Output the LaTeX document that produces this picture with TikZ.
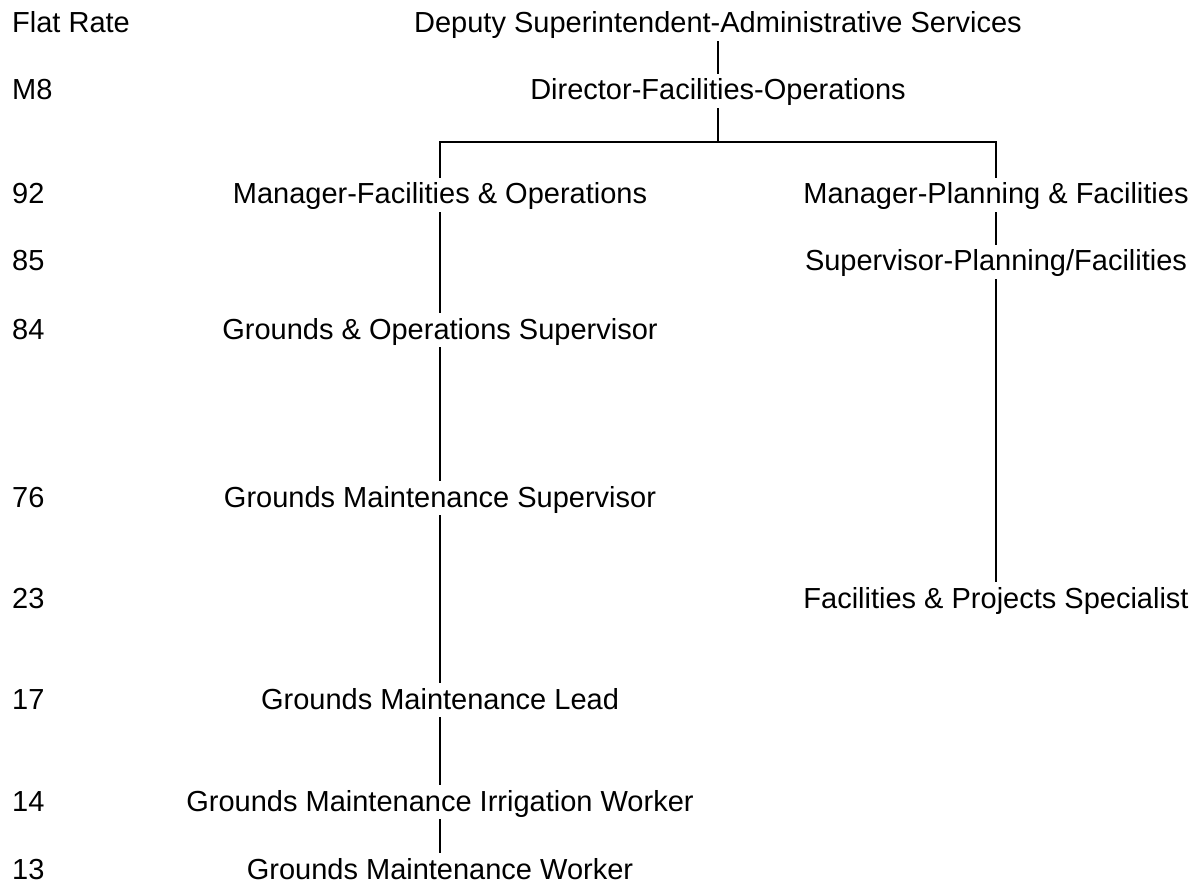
\documentclass[tikz,border=0pt]{standalone}
\usepackage{fontspec}
\setmainfont{Liberation Sans}
\begin{document}
\begin{tikzpicture}[x=1pt,y=-1pt,
  every node/.style={font=\fontsize{29}{34}\selectfont},
  jobtitle/.style={anchor=base,inner xsep=2pt,inner ysep=0pt,text height=26pt,text depth=8pt},
  rowlabel/.style={anchor=base west,inner sep=0pt},
  conn/.style={line width=2pt}]
\useasboundingbox (0,0) rectangle (1198,882);
% grade labels
\node[rowlabel] (lFlat) at (12,33) {Flat Rate};
\node[rowlabel] (lM8) at (12,100) {M8};
\node[rowlabel] (l92) at (12,204) {92};
\node[rowlabel] (l85) at (12,271) {85};
\node[rowlabel] (l84) at (12,339) {84};
\node[rowlabel] (l76) at (12,507) {76};
\node[rowlabel] (l23) at (12,608) {23};
\node[rowlabel] (l17) at (12,709) {17};
\node[rowlabel] (l14) at (12,811) {14};
\node[rowlabel] (l13) at (12,879) {13};
% positions
\node[jobtitle] (dep) at (718,33) {Deputy Superintendent-Administrative Services};
\node[jobtitle] (dir) at (718,100) {Director-Facilities-Operations};
\node[jobtitle] (mf) at (440,204) {Manager-Facilities \& Operations};
\node[jobtitle] (mp) at (996,204) {Manager-Planning \& Facilities};
\node[jobtitle] (sp) at (996,271) {Supervisor-Planning/Facilities};
\node[jobtitle] (gos) at (440,339) {Grounds \& Operations Supervisor};
\node[jobtitle] (gms) at (440,507) {Grounds Maintenance Supervisor};
\node[jobtitle] (fps) at (996,608) {Facilities \& Projects Specialist};
\node[jobtitle] (gml) at (440,709) {Grounds Maintenance Lead};
\node[jobtitle] (gmi) at (440,811) {Grounds Maintenance Irrigation Worker};
\node[jobtitle] (gmw) at (440,879) {Grounds Maintenance Worker};
\coordinate (bar) at (718,142);
% connectors
\draw[conn] (dep.south) -- (dir.north);
\draw[conn] (dir.south) -- (bar);
\draw[conn] (mf.north) -- (mf.north |- bar) -- (mp.north |- bar) -- (mp.north);
\draw[conn] (mf.south) -- (gos.north);
\draw[conn] (gos.south) -- (gms.north);
\draw[conn] (gms.south) -- (gml.north);
\draw[conn] (gml.south) -- (gmi.north);
\draw[conn] (gmi.south) -- (gmw.north);
\draw[conn] (mp.south) -- (sp.north);
\draw[conn] (sp.south) -- (fps.north);
\end{tikzpicture}
\end{document}
